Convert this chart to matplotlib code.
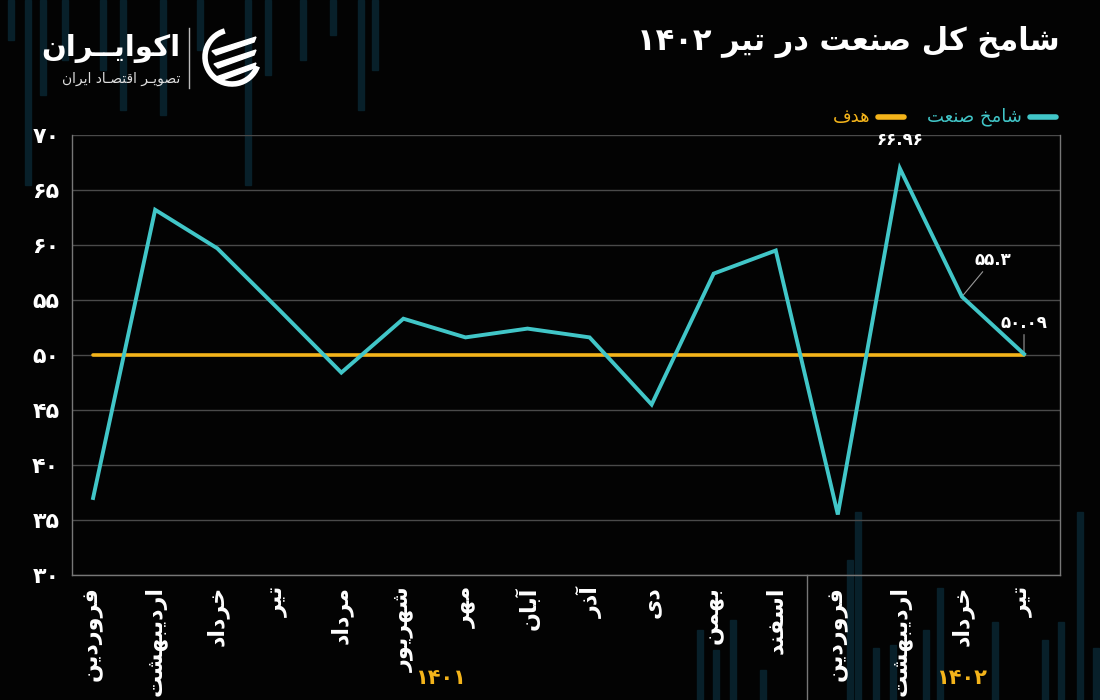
import matplotlib
matplotlib.use("Agg")
import matplotlib.pyplot as plt
from matplotlib.patches import Rectangle, Arc, Polygon
from matplotlib.lines import Line2D

# ---- data ----
months = ["فروردین", "اردیبهشت", "خرداد", "تیر", "مرداد", "شهریور", "مهر", "آبان",
          "آذر", "دی", "بهمن", "اسفند", "فروردین", "اردیبهشت", "خرداد", "تیر"]
shamekh = [37.0, 63.2, 59.7, 54.1, 48.4, 53.3, 51.6, 52.4,
           51.6, 45.5, 57.4, 59.5, 35.5, 66.96, 55.3, 50.09]
target = [50, 50, 50, 50, 50, 50, 50, 50, 50, 50, 50, 50, 50, 50, 50, 50]
yticks = [30, 35, 40, 45, 50, 55, 60, 65, 70]
years = ["1401", "1402"]
year_pos = [5.6, 14.0]
labelled = [13, 14, 15]

# ---- minimal persian shaping (matplotlib has no bidi / joining) ----
FORMS = {
    "ا": ("\uFE8D", "\uFE8E", None, None), "آ": ("\uFE81", "\uFE82", None, None),
    "ب": ("\uFE8F", "\uFE90", "\uFE91", "\uFE92"), "ت": ("\uFE95", "\uFE96", "\uFE97", "\uFE98"),
    "خ": ("\uFEA5", "\uFEA6", "\uFEA7", "\uFEA8"), "د": ("\uFEA9", "\uFEAA", None, None),
    "ذ": ("\uFEAB", "\uFEAC", None, None), "ر": ("\uFEAD", "\uFEAE", None, None),
    "س": ("\uFEB1", "\uFEB2", "\uFEB3", "\uFEB4"), "ش": ("\uFEB5", "\uFEB6", "\uFEB7", "\uFEB8"),
    "ص": ("\uFEB9", "\uFEBA", "\uFEBB", "\uFEBC"), "ع": ("\uFEC9", "\uFECA", "\uFECB", "\uFECC"),
    "ف": ("\uFED1", "\uFED2", "\uFED3", "\uFED4"), "ق": ("\uFED5", "\uFED6", "\uFED7", "\uFED8"),
    "ل": ("\uFEDD", "\uFEDE", "\uFEDF", "\uFEE0"), "م": ("\uFEE1", "\uFEE2", "\uFEE3", "\uFEE4"),
    "ن": ("\uFEE5", "\uFEE6", "\uFEE7", "\uFEE8"), "ه": ("\uFEE9", "\uFEEA", "\uFEEB", "\uFEEC"),
    "و": ("\uFEED", "\uFEEE", None, None), "ی": ("\uFBFC", "\uFBFD", "\uFBFE", "\uFBFF"),
    "ک": ("\uFB8E", "\uFB8F", "\uFB90", "\uFB91"), "ـ": ("\u0640", "\u0640", "\u0640", "\u0640"),
}


def shape(word):
    out = []
    for i, ch in enumerate(word):
        if ch not in FORMS:
            out.append(ch)
            continue
        iso, fin, ini, med = FORMS[ch]
        prev = word[i - 1] if i > 0 else None
        nxt = word[i + 1] if i < len(word) - 1 else None
        jp = prev in FORMS and FORMS[prev][2] is not None
        jn = ini is not None and nxt in FORMS
        out.append(med if jp and jn else fin if jp else ini if jn else iso)
    return "".join(out)


def fa(text):
    vis = []
    for w in reversed(text.split(" ")):
        vis.append(shape(w)[::-1] if any(c in FORMS for c in w) else w)
    return " ".join(vis)


def fnum(v):
    return str(v).translate(str.maketrans("0123456789", "۰۱۲۳۴۵۶۷۸۹"))


# ---- figure ----
BG = "#030303"
CYAN = "#41c6c8"
ORANGE = "#f4b41a"
GRID = "#4a4a4a"
W, H = 1100, 700
plt.rcParams["font.family"] = ["DejaVu Sans"]

fig = plt.figure(figsize=(11, 7), dpi=100, facecolor=BG)

# decorative background bars
bar_col = "#08202a"
top_bars = [(8, 40), (25, 185), (40, 95), (62, 60), (100, 70), (120, 110), (160, 115),
            (197, 50), (245, 185), (265, 75), (300, 60), (330, 35), (358, 110), (372, 70)]
for x, b in top_bars:
    fig.patches.append(Rectangle((x / W, 1 - b / H), 6 / W, b / H, transform=fig.transFigure,
                                 color=bar_col, zorder=0))
bot_bars = [(697, 630), (713, 650), (730, 620), (760, 670), (847, 560), (855, 512), (873, 648),
            (890, 645), (923, 630), (937, 588), (992, 622), (1042, 640), (1058, 622),
            (1077, 512), (1093, 648)]
for x, t in bot_bars:
    fig.patches.append(Rectangle((x / W, 0), 6 / W, 1 - t / H, transform=fig.transFigure,
                                 color=bar_col, zorder=0))

ax = fig.add_axes([72 / W, 1 - 575 / H, (1060 - 72) / W, (575 - 135) / H])
ax.set_facecolor("none")
ax.set_zorder(2)

x = list(range(len(months)))
ax.plot(x, target, color=ORANGE, lw=2.6, zorder=3, solid_capstyle="round")
ax.plot(x, shamekh, color=CYAN, lw=2.8, zorder=4, solid_joinstyle="miter")

ax.set_xlim(-0.34, 15.58)
ax.set_ylim(30, 70)
ax.set_yticks(yticks)
ax.set_yticklabels([fnum(v) for v in yticks], color="white", fontsize=16, fontweight="bold")
ax.set_xticks(x)
ax.set_xticklabels([fa(m) for m in months], rotation=90, color="white", fontsize=16,
                   fontweight="bold", va="top")
ax.tick_params(axis="both", length=0)
ax.tick_params(axis="y", pad=9)
ax.tick_params(axis="x", pad=8)
ax.grid(axis="y", color=GRID, lw=1)
for s in ["left", "bottom", "right"]:
    ax.spines[s].set_color("#777777")
    ax.spines[s].set_linewidth(1)
ax.spines["top"].set_visible(False)

# separator between years
ax.plot([11.5, 11.5], [0, -0.29], transform=ax.get_xaxis_transform(), color="#777777",
        lw=1, clip_on=False)
trans = ax.get_xaxis_transform()
for yr, p in zip(years, year_pos):
    ax.text(p, -0.235, fnum(yr), transform=trans, color=ORANGE, fontsize=15,
            fontweight="bold", ha="center", va="center")

# value labels
offsets = {13: (0, 14, False), 14: (22, 20, True), 15: (0, 16, True)}
for i in labelled:
    dx, dy, leader = offsets[i]
    ax.annotate(fnum(shamekh[i]), (i, shamekh[i]), xytext=(dx, dy), textcoords="offset points",
                ha="center", va="bottom", color="white", fontsize=12, fontweight="bold",
                arrowprops=dict(arrowstyle="-", color="#999999", lw=0.8, shrinkA=0, shrinkB=0)
                if leader else None)

# title
fig.text(1060 / W, 1 - 42 / H, fa("شامخ کل صنعت در تیر ۱۴۰۲"), color="white", fontsize=22,
         fontweight="bold", ha="right", va="center")

# legend
ly = 1 - 117 / H
fig.add_artist(Line2D([1030 / W, 1056 / W], [ly, ly], color=CYAN, lw=4, solid_capstyle="round"))
fig.text(1022 / W, ly, fa("شامخ صنعت"), color=CYAN, fontsize=13, ha="right", va="center")
fig.add_artist(Line2D([878 / W, 904 / W], [ly, ly], color=ORANGE, lw=4, solid_capstyle="round"))
fig.text(870 / W, ly, fa("هدف"), color=ORANGE, fontsize=13, ha="right", va="center")

# logo
fig.text(180 / W, 1 - 48 / H, fa("اکوایــران"), color="white", fontsize=21, fontweight="bold",
         ha="right", va="center")
fig.text(180 / W, 1 - 79 / H, fa("تصویـر اقتصـاد ایران"), color="#dddddd", fontsize=10,
         ha="right", va="center")
fig.add_artist(Line2D([189 / W, 189 / W], [1 - 28 / H, 1 - 88 / H], color="#bbbbbb", lw=1))
cx, cy, r = 232, 57, 27
fig.patches.append(Arc((cx / W, 1 - cy / H), 2 * r / W, 2 * r / H, theta1=100, theta2=330,
                       transform=fig.transFigure, color="white", lw=4, zorder=3))
for k in range(3):
    yy = cy - 14 + k * 13
    pts = [((cx - 20 + k * 2) / W, 1 - (yy + 8) / H), ((cx + 24) / W, 1 - (yy - 6) / H),
           ((cx + 22) / W, 1 - (yy - 1) / H), ((cx - 16 + k * 2) / W, 1 - (yy + 12) / H)]
    fig.patches.append(Polygon(pts, closed=True, transform=fig.transFigure, color="white", zorder=3))

fig.savefig("out.png", dpi=100, facecolor=BG)
